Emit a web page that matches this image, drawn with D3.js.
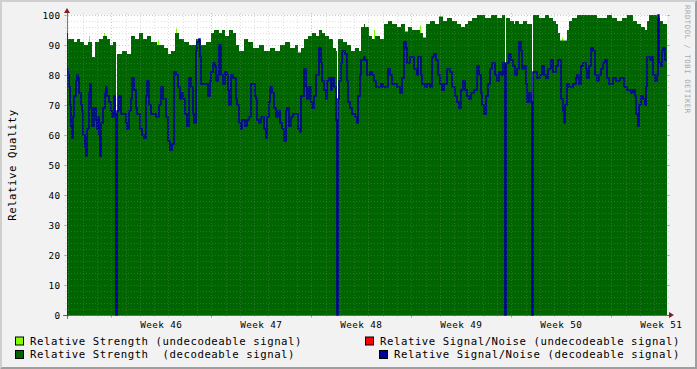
<!DOCTYPE html>
<html><head><meta charset="utf-8">
<script src="https://cdn.jsdelivr.net/npm/d3@7"></script>
<style>html,body{margin:0;padding:0;background:#F2F2F2;}svg{display:block;}</style>
</head><body>
<script>
// ---------------- DATA (rows = one RRD row per 6048 s, 600 rows = 42 days) ----------------
const startTime = "2003-11-06T21:36:00Z";
const rowSeconds = 6048;
const rowCount = 600;
const yTicks = [0,10,20,30,40,50,60,70,80,90,100];
const weekStarts = ["2003-11-10","2003-11-17","2003-11-24","2003-12-01","2003-12-08","2003-12-15"];
const weekLabels = ["Week 46","Week 47","Week 48","Week 49","Week 50","Week 51"];
const yTitle = "Relative Quality";
const watermark = "RRDTOOL / TOBI OETIKER";
const legendNames = [
  "Relative Strength (undecodeable signal)",
  "Relative Signal/Noise (undecodeable signal)",
  "Relative Strength  (decodeable signal)",
  "Relative Signal/Noise (decodeable signal)"
];
const legendColors = ["#80FF00","#FF0000","#006400","#00009C"];

// [row, value]
const strengthDecodeable = [[0,94],[1,92],[7,91],[10,92],[13,91],[17,90],[21,91],[25,86],[28,91],[32,92],[36,93],[40,92],[43,90],[46,91],[49,0],[50,87],[55,88],[60,87],[64,93],[68,92],[72,94],[76,92],[80,93],[84,91],[90,90],[97,89],[101,87],[104,88],[108,94],[112,92],[117,91],[122,90],[129,92],[134,90],[139,91],[144,94],[147,95],[152,94],[155,95],[158,93],[162,95],[166,94],[169,90],[172,88],[177,92],[181,91],[186,89],[192,90],[197,88],[203,89],[208,88],[213,90],[218,91],[223,89],[228,90],[231,87.5],[234,89],[237,92],[241,93],[245,94],[249,93],[252,95],[255,94],[258,93],[262,92],[266,89],[269,88],[270,0],[271,92],[276,91],[280,90],[284,88],[288,89],[292,88],[294,96],[297,97],[298,96],[302,93],[305,92],[308,93],[313,92],[317,97],[321,98],[325,97],[330,96],[334,97],[338,94.5],[341,96],[345,95],[349,95],[353,94],[356,92.5],[359,97],[363,98],[368,97],[372,99.5],[376,98],[380,99],[385,98],[390,97],[394,96],[398,97],[401,98],[405,99],[410,100],[418,99],[424,100],[430,99],[435,100],[438,0],[439,99],[443,98],[447,97],[448,98],[452,97],[456,98],[460,97],[465,0],[466,100],[472,99],[478,100],[482,99],[486,98],[489,97],[491,94],[493,91.5],[500,95],[502,98],[505,99],[510,100],[530,99],[540,100],[545,99],[550,98],[555,99],[560,100],[566,98],[570,97],[574,96],[578,95],[580,98],[582,100],[590,99],[593,98],[596,97]];

const strengthUndecodeable = [[22,93],[37,94],[91,91.5],[109,95.5],[307,95],[353,96.5],[495,92.5]];

const snrUndecodeable = [];

const snrDecodeable = [[0,82],[1,80],[2,76],[3,70],[4,63],[5,59],[6,66],[7,73],[9,78],[10,80],[11,79],[12,74],[14,70],[15,68],[16,60],[18,56],[19,53],[20,62],[22,74],[23,77],[24,69],[25,63],[27,69],[29,65],[30,62],[31,66],[32,60],[33,53],[34,64],[36,69],[38,74],[39,76],[40,73],[42,71],[44,68],[45,66],[47,73],[48,67],[49,0],[50,68],[52,73],[54,67],[56,67],[59,64],[60,62],[62,68],[64,72],[65,79],[67,75],[69,69],[70,67],[73,62],[75,60],[77,59],[79,73],[80,78],[82,70],[84,67],[89,66],[92,70],[94,76],[96,72],[99,66],[101,58],[103,55],[105,57],[107,81],[109,80],[111,76],[113,72],[114,74],[116,72],[118,67],[120,63],[122,79],[124,76],[126,67],[127,64],[129,88],[130,91],[132,92],[133,86],[134,77],[139,77],[141,73],[143,78],[144,81],[146,84],[148,83],[149,78],[151,80],[152,90],[154,80],[156,77],[158,81],[160,80],[161,75],[162,70],[164,80],[166,79],[169,72],[170,70],[172,64],[174,62],[175,65],[178,63],[180,65],[182,66],[184,77],[186,77],[188,73],[189,72],[190,65],[192,64],[194,66],[197,62],[199,59],[200,66],[202,71],[203,76],[205,74],[207,69],[209,66],[211,68],[213,64],[215,62],[217,58],[219,68],[220,69],[222,63],[224,66],[226,67],[229,67],[231,62],[233,61],[234,73],[237,82],[239,76],[240,72],[242,76],[244,71],[245,69],[247,73],[249,80],[252,89],[254,84],[255,78],[257,75],[259,72],[260,78],[262,79],[264,75],[265,79],[267,76],[269,65],[270,0],[271,72],[272,78],[274,84],[275,88],[278,87],[280,78],[281,71],[283,69],[285,67],[288,66],[290,64],[291,73],[293,80],[294,85],[297,86],[298,85],[300,80],[303,81],[305,80],[307,78],[309,76],[312,76],[314,77],[316,76],[319,76],[321,82],[323,80],[325,77],[328,77],[330,76],[333,74],[335,79],[337,91],[339,89],[340,84],[343,86],[345,86],[347,82],[350,80],[351,86],[354,80],[355,77],[358,76],[360,77],[363,76],[365,86],[367,87],[369,85],[371,80],[373,77],[375,75],[377,77],[380,82],[383,81],[385,76],[388,73],[390,71],[392,69],[394,75],[396,78],[398,75],[400,73],[402,72],[404,74],[407,75],[410,83],[412,80],[414,74],[415,70],[417,67],[419,73],[421,77],[423,82],[425,84],[428,80],[430,78],[432,81],[434,80],[436,84],[438,0],[439,84],[442,87],[444,85],[446,83],[448,80],[450,82],[452,91],[454,88],[455,82],[457,83],[459,77],[460,71],[462,74],[464,71],[465,0],[466,81],[469,81],[470,79],[473,80],[475,83],[477,80],[479,79],[481,82],[484,85],[486,81],[489,83],[491,85],[493,85],[494,72],[496,68],[497,64],[498,70],[500,77],[502,76],[504,76],[506,77],[509,79],[510,80],[512,77],[514,83],[516,84],[519,82],[520,79],[522,83],[524,89],[526,88],[528,80],[530,78],[532,80],[534,82],[536,84],[538,85],[540,79],[542,77],[544,77],[546,79],[549,78],[551,78],[553,79],[555,79],[557,76],[560,75],[562,75],[564,74],[566,75],[568,73],[569,67],[571,63],[572,70],[574,73],[576,72],[578,70],[579,76],[580,86],[583,85],[584,86],[586,80],[588,78],[590,80],[591,100],[592,84],[594,83],[595,88],[596,89],[598,85]];

// ---------------- CHART ----------------
const W = 697, H = 369;
const X0 = 67, XS = 600, Y0 = 315, YS = 300;
const t0 = new Date(startTime);
const t1 = new Date(+t0 + rowCount*rowSeconds*1000);
const rowTime = i => new Date(+t0 + i*rowSeconds*1000);

const x = d3.scaleUtc().domain([t0, t1]).range([X0, X0+XS]);
const y = d3.scaleLinear().domain([0,100]).range([Y0, Y0-YS]);

const svg = d3.select("body").append("svg").attr("width", W).attr("height", H)
  .attr("font-family", "'DejaVu Sans Mono', monospace");

// background + 3D border
svg.append("rect").attr("width", W).attr("height", H).attr("fill", "#F2F2F2");
svg.append("path").attr("fill", "#CFCFCF")
  .attr("d", `M0,0 L0,${H} L2,${H-2} L2,2 L${W-2},2 L${W},0 Z`);
svg.append("path").attr("fill", "#9E9E9E")
  .attr("d", `M${W},${H} L${W},0 L${W-2},2 L${W-2},${H-2} L2,${H-2} L0,${H} Z`);

// canvas
svg.append("rect").attr("x", X0).attr("y", Y0-YS).attr("width", XS).attr("height", YS).attr("fill", "#FFFFFF");

const extend = arr => arr.concat([[rowCount, arr[arr.length-1][1]]]);

// undecodeable strength (behind)
svg.append("g").selectAll("rect").data(strengthUndecodeable).join("rect")
  .attr("x", d => x(rowTime(d[0]))).attr("width", d => x(rowTime(d[0]+1)) - x(rowTime(d[0])))
  .attr("y", d => y(d[1])).attr("height", d => y(0) - y(d[1]))
  .attr("fill", legendColors[0]);

// decodeable strength area
const area = d3.area().x(d => x(rowTime(d[0]))).y0(y(0)).y1(d => y(d[1])).curve(d3.curveStepAfter);
svg.append("path").datum(extend(strengthDecodeable)).attr("d", area).attr("fill", legendColors[2]);

// SNR lines
const line = d3.line().x(d => x(rowTime(d[0]))).y(d => y(d[1])).curve(d3.curveStepAfter);
if (snrUndecodeable.length) svg.append("path").datum(extend(snrUndecodeable)).attr("d", line)
  .attr("fill","none").attr("stroke", legendColors[1]).attr("stroke-width", 1.6);
svg.append("path").datum(extend(snrDecodeable)).attr("d", line)
  .attr("fill","none").attr("stroke", legendColors[3]).attr("stroke-width", 1.6);

// grid (drawn over the graph like rrdtool, thin semi-transparent dashes)
const grid = svg.append("g");
const minorCol = "rgba(150,150,150,0.3)", majorCol = "rgba(222,79,79,0.4)";
const minorY = d3.range(0, 101, 2).filter(v => v % 10 !== 0);
minorY.forEach(v => {
  grid.append("line").attr("x1", X0-2).attr("x2", X0+XS+2).attr("y1", Math.round(y(v))+0.5).attr("y2", Math.round(y(v))+0.5)
    .attr("stroke", minorCol).attr("stroke-width", 1).attr("stroke-dasharray", "1,2");
});
yTicks.forEach(v => {
  const yy = Math.round(y(v))+0.5;
  grid.append("line").attr("x1", X0-2).attr("x2", X0+XS+2).attr("y1", yy).attr("y2", yy)
    .attr("stroke", majorCol).attr("stroke-width", 1).attr("stroke-dasharray", "1,2");
  grid.append("line").attr("x1", X0-3).attr("x2", X0).attr("y1", yy).attr("y2", yy).attr("stroke", majorCol);
  grid.append("line").attr("x1", X0+XS).attr("x2", X0+XS+3).attr("y1", yy).attr("y2", yy).attr("stroke", majorCol);
});
const days = d3.utcDay.range(t0, t1);
days.forEach(d => {
  if (d.getUTCDay() === 1) return;
  const xx = Math.round(x(d))+0.5;
  grid.append("line").attr("x1", xx).attr("x2", xx).attr("y1", Y0-YS-2).attr("y2", Y0+2)
    .attr("stroke", minorCol).attr("stroke-width", 1).attr("stroke-dasharray", "1,2");
});
const weeks = weekStarts.map(s => new Date(s + "T00:00:00Z"));
weeks.forEach(d => {
  const xx = Math.round(x(d))+0.5;
  grid.append("line").attr("x1", xx).attr("x2", xx).attr("y1", Y0-YS-2).attr("y2", Y0+2)
    .attr("stroke", majorCol).attr("stroke-width", 1).attr("stroke-dasharray", "1,2");
  grid.append("line").attr("x1", xx).attr("x2", xx).attr("y1", Y0).attr("y2", Y0+3).attr("stroke", majorCol);
});

// axes
svg.append("line").attr("x1", X0-4).attr("x2", X0+XS+4).attr("y1", Y0+0.5).attr("y2", Y0+0.5).attr("stroke", "#1F1F1F").attr("stroke-width", 1).attr("stroke-opacity", 0.6);
svg.append("line").attr("x1", X0+0.5).attr("x2", X0+0.5).attr("y1", Y0+4).attr("y2", Y0-YS-4).attr("stroke", "#1F1F1F").attr("stroke-width", 1).attr("stroke-opacity", 0.6);
svg.append("path").attr("fill", "#801F1F")
  .attr("d", `M${X0+XS+2},${Y0-3} L${X0+XS+2},${Y0+3} L${X0+XS+7},${Y0} Z`);
svg.append("path").attr("fill", "#801F1F")
  .attr("d", `M${X0-3},${Y0-YS-2} L${X0+3},${Y0-YS-2} L${X0},${Y0-YS-7} Z`);

// y labels
svg.append("g").selectAll("text").data(yTicks).join("text")
  .attr("x", X0-6.6).attr("y", d => y(d)+3.6).attr("text-anchor", "end")
  .attr("font-size", 9.33).attr("letter-spacing", 0.38).attr("fill", "#000")
  .text(d => d);

// week labels
svg.append("g").selectAll("text").data(weeks).join("text")
  .attr("x", (d) => x(d3.utcHour.offset(d, 84))).attr("y", 328).attr("text-anchor", "middle")
  .attr("font-size", 9.33).attr("letter-spacing", 0.38).attr("fill", "#000")
  .text((d,i) => weekLabels[i]);

// y title
svg.append("text").attr("transform", `translate(16,${Y0-YS/2}) rotate(-90)`)
  .attr("text-anchor", "middle").attr("font-size", 10.67).attr("letter-spacing", 0.56).attr("fill", "#000")
  .text(yTitle);

// watermark
svg.append("text").attr("transform", `translate(685,5) rotate(90)`)
  .attr("font-size", 7.3).attr("letter-spacing", 0.55).attr("fill", "#A9A9A9")
  .text(watermark);

// legend
const legendPos = [[15,344.5],[365,344.5],[15,358],[379,358]];
legendNames.forEach((name, i) => {
  const [lx, ly] = legendPos[i];
  svg.append("rect").attr("x", lx+0.5).attr("y", ly-7.5).attr("width", 8).attr("height", 8)
    .attr("fill", legendColors[i]).attr("stroke", "#000").attr("stroke-width", 1);
  svg.append("text").attr("x", lx+15).attr("y", ly).attr("font-size", 10.67).attr("letter-spacing", 0.56)
    .attr("fill", "#000").attr("xml:space", "preserve").style("white-space", "pre").text(name);
});
</script>
</body></html>
